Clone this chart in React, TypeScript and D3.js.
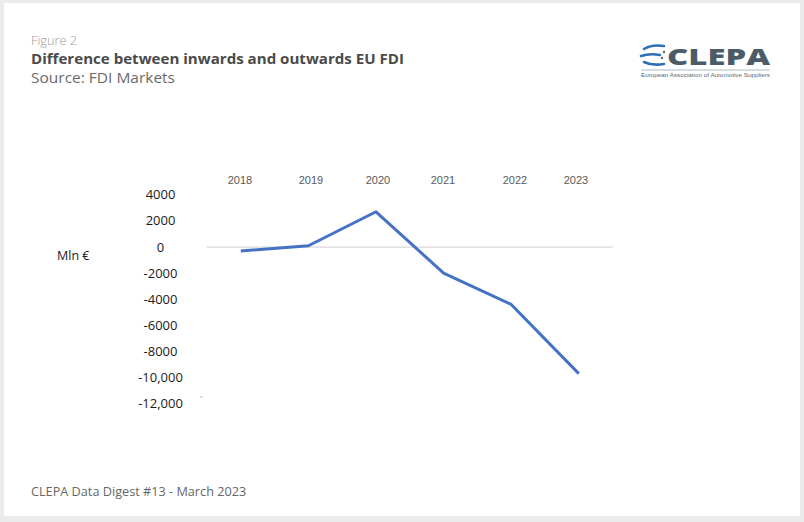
import React from "react";
import * as d3 from "d3";

const years = ["2018", "2019", "2020", "2021", "2022", "2023"];
const values = [-300, 100, 2700, -2000, -4400, -9700];
const yTicks = [4000, 2000, 0, -2000, -4000, -6000, -8000, -10000, -12000];
const yTickLabels = ["4000", "2000", "0", "-2000", "-4000", "-6000", "-8000", "-10,000", "-12,000"];

const W = 804;
const H = 522;

export default function App() {
  const x = d3.scaleBand<string>().domain(years).range([207, 612.6]);
  const y = d3.scaleLinear().domain([-12000, 4000]).range([403.7, 194.8]);
  const line = d3
    .line<number>()
    .x((_, i) => (x(years[i]) as number) + x.bandwidth() / 2)
    .y((d) => y(d));

  const sans = "'Open Sans', 'Noto Sans', sans-serif";
  const cal = "'Liberation Sans', 'Open Sans', sans-serif";
  const yearX = [240, 311, 378, 443, 515, 576];

  return (
    <div style={{ position: "absolute", left: 0, top: 0 }}>
      <svg width={W} height={H} style={{ display: "block" }}>
        <rect x={0} y={0} width={W} height={H} fill="#ebebeb" />
        <rect x={4} y={3} width={796} height={513} fill="#ffffff" />

        {/* Header */}
        <text x={31} y={44.5} fontFamily={sans} fontSize={13.5} fontWeight={300} fill="#9a9a9a" textLength={46} lengthAdjust="spacingAndGlyphs">
          Figure 2
        </text>
        <text x={31} y={64} fontFamily={sans} fontSize={14} fontWeight={700} fill="#4a4a4a" textLength={373} lengthAdjust="spacingAndGlyphs">
          Difference between inwards and outwards EU FDI
        </text>
        <text x={31} y={83} fontFamily={sans} fontSize={14} fontWeight={400} fill="#6a6a6a" textLength={144} lengthAdjust="spacingAndGlyphs">
          Source: FDI Markets
        </text>

        {/* Logo */}
        <g>
          <path d="M644,49 Q652,44 664,46" stroke="#2f6fb5" strokeWidth={2.6} fill="none" strokeLinecap="round" />
          <path d="M641,56 Q650,53 660,55" stroke="#2f6fb5" strokeWidth={2.6} fill="none" strokeLinecap="round" />
          <path d="M644,62 Q652,66 664,64" stroke="#2f6fb5" strokeWidth={2.6} fill="none" strokeLinecap="round" />
          <circle cx={664} cy={52} r={1.2} fill="#5a6a78" />
          <circle cx={662} cy={58} r={1.2} fill="#5a6a78" />
          <text x={667} y={65} fontFamily={sans} fontSize={23} fontWeight={800} fill="#4d5b68" textLength={103} lengthAdjust="spacingAndGlyphs">
            CLEPA
          </text>
          <line x1={641} x2={770} y1={70} y2={70} stroke="#9aa7b3" strokeWidth={0.8} />
          <text x={641} y={77} fontFamily={cal} fontSize={6} fill="#5d6a75" textLength={129} lengthAdjust="spacingAndGlyphs">
            European Association of Automotive Suppliers
          </text>
        </g>

        {/* Year labels */}
        {years.map((yr, i) => (
          <text
            key={yr}
            x={yearX[i]}
            y={184}
            textAnchor="middle"
            fontFamily={cal}
            fontSize={11}
            fill="#595959"
          >
            {yr}
          </text>
        ))}

        {/* Y labels */}
        {yTicks.map((v, i) => (
          <text
            key={v}
            x={160.5}
            y={y(v) + 4.5}
            textAnchor="middle"
            fontFamily={sans}
            fontSize={13}
            fill="#1a1a1a"
          >
            {yTickLabels[i]}
          </text>
        ))}
        <text x={57} y={260} fontFamily={sans} fontSize={12.5} fill="#1a1a1a">
          Mln €
        </text>

        {/* zero gridline */}
        <line x1={207} x2={612.6} y1={y(0)} y2={y(0)} stroke="#d9d9d9" strokeWidth={1.2} />
        <line x1={200} x2={203} y1={397} y2={397} stroke="#bbbbbb" strokeWidth={1} />

        {/* data line */}
        <path d={line(values) || ""} fill="none" stroke="#4472c4" strokeWidth={3} strokeLinejoin="round" />

        {/* Footer */}
        <text x={31} y={496} fontFamily={sans} fontSize={12.7} fontWeight={400} fill="#666666">
          CLEPA Data Digest #13 - March 2023
        </text>
      </svg>
    </div>
  );
}
